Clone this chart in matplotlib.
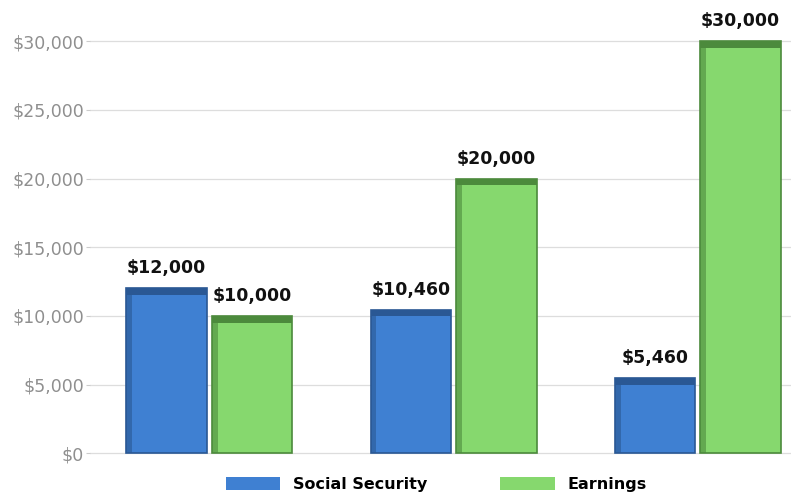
import numpy as np
import matplotlib.pyplot as plt
from matplotlib.patches import Patch

groups = ["A", "B", "C"]
social_security = [12000, 10460, 5460]
earnings = [10000, 20000, 30000]
y_ticks = [0, 5000, 10000, 15000, 20000, 25000, 30000]

blue, blue_dark = "#3f80d2", "#2a5894"
green, green_dark = "#86d86e", "#4c8a3c"

fig = plt.figure(figsize=(7.93, 5.04), dpi=100)
ax = fig.add_axes([0.113, 0.06, 0.884, 0.94])

x = np.arange(len(groups))
w = 0.33
off = 0.175
cap = 500  # darker top face height, data units

for vals, dx, c, cd in [(social_security, -off, blue, blue_dark),
                        (earnings, off, green, green_dark)]:
    vals = np.array(vals)
    ax.bar(x + dx, vals, w, color=c, edgecolor=cd, linewidth=1.2, zorder=3)
    ax.bar(x + dx, cap, w, bottom=vals - cap, color=cd, linewidth=0, zorder=4)
    ax.bar(x + dx - w / 2 + 0.012, vals - cap, 0.024, color=cd, alpha=0.6,
           linewidth=0, zorder=4)
    for xi, v in zip(x + dx, vals):
        ax.text(xi, v + 800, f"${v:,.0f}", ha="center", va="bottom",
                fontsize=12.5, fontweight="bold", color="#111111", zorder=5)

ax.set_xlim(-0.49, 2.38)
ax.set_ylim(-1500, 33000)
ax.set_yticks(y_ticks)
ax.set_yticklabels([f"${t:,}" for t in y_ticks])
ax.tick_params(axis="y", colors="#cccccc", labelcolor="#8f8f8f", labelsize=12.5,
               length=3, width=0.8, pad=1)
ax.set_xticks([])
ax.grid(axis="y", color="#dddddd", linewidth=0.9, zorder=0)
for s in ax.spines.values():
    s.set_visible(False)

handles = [Patch(facecolor=blue, edgecolor="none"), Patch(facecolor=green, edgecolor="none")]
fig.legend(handles, ["Social Security", "Earnings"], loc="lower center",
           bbox_to_anchor=(0.55, -0.005), ncol=2, frameon=False,
           prop={"weight": "bold", "size": 11.5}, handlelength=3.4,
           handleheight=0.8, columnspacing=4.6)

fig.savefig("out.png", dpi=100)
